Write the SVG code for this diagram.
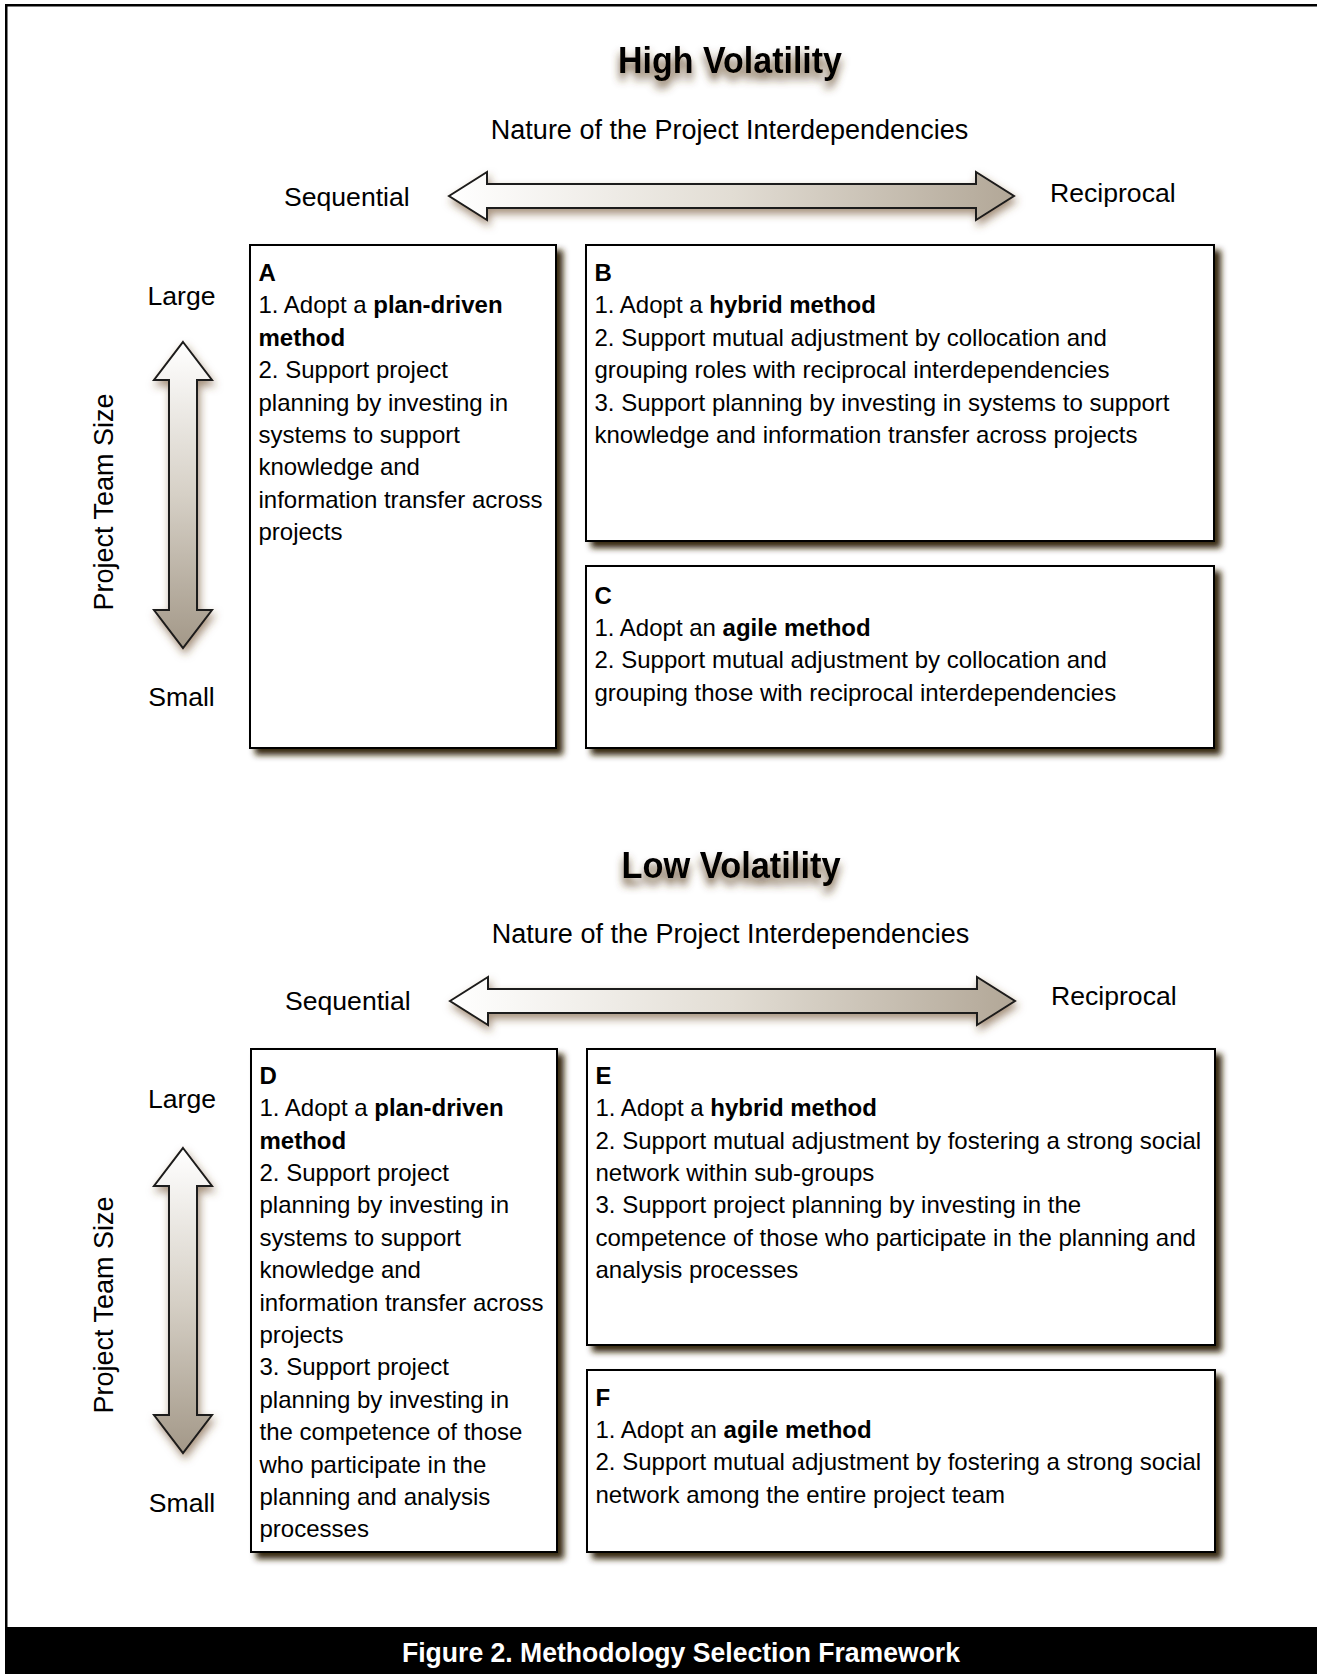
<svg xmlns="http://www.w3.org/2000/svg" width="1317" height="1674" viewBox="0 0 1317 1674">
<style>
.t{font-family:"Liberation Sans",Arial,sans-serif;font-size:24px;fill:#000}
.b{font-weight:bold}
.lbl{font-family:"Liberation Sans",Arial,sans-serif;font-size:26.6px;fill:#000}
.ttl{font-family:"Liberation Sans",Arial,sans-serif;font-size:36px;font-weight:bold;fill:#000;filter:url(#titleShadow)}
.box{fill:#fff;stroke:#000;stroke-width:2;filter:url(#boxShadow)}
.harrow{fill:url(#gradH);stroke:#1a1a1a;stroke-width:2;stroke-linejoin:miter;filter:url(#arrowShadow)}
.varrow{fill:url(#gradV);stroke:#1a1a1a;stroke-width:2;stroke-linejoin:miter;filter:url(#arrowShadow)}
.cap{font-family:"Liberation Sans",Arial,sans-serif;font-size:28px;font-weight:bold;fill:#fff}
</style>
<defs>
<filter id="boxShadow" x="-5%" y="-5%" width="115%" height="115%">
<feDropShadow dx="6" dy="6" stdDeviation="3" flood-color="#35250f" flood-opacity="1"/>
</filter>
<filter id="titleShadow" x="-10%" y="-30%" width="120%" height="180%">
<feDropShadow dx="0" dy="7" stdDeviation="4" flood-color="#5a3c1e" flood-opacity="0.9"/>
</filter>
<filter id="arrowShadow" x="-20%" y="-30%" width="140%" height="160%">
<feDropShadow dx="2" dy="5" stdDeviation="4" flood-color="#6b4a28" flood-opacity="0.6"/>
</filter>
<linearGradient id="gradH" x1="0" y1="0" x2="1" y2="0">
<stop offset="0" stop-color="#ffffff"/>
<stop offset="0.5" stop-color="#e2ddd4"/>
<stop offset="1" stop-color="#b2a797"/>
</linearGradient>
<linearGradient id="gradV" x1="0" y1="0" x2="0" y2="1">
<stop offset="0" stop-color="#ffffff"/>
<stop offset="0.5" stop-color="#d6d0c6"/>
<stop offset="1" stop-color="#a39888"/>
</linearGradient>
</defs>
<rect width="1317" height="1674" fill="#fff"/>
<g id="frame">
<rect x="5" y="4" width="1312" height="2.5" fill="#000"/>
<rect x="5" y="4" width="2.5" height="1624" fill="#000"/>
<rect x="5" y="1627" width="1312" height="47" fill="#000"/>
<text class="cap" x="681" y="1661.5" text-anchor="middle" textLength="558" lengthAdjust="spacingAndGlyphs">Figure 2. Methodology Selection Framework</text>
</g>
<g id="labels-high">
<text class="ttl" x="730" y="72.7" text-anchor="middle" textLength="224" lengthAdjust="spacingAndGlyphs">High Volatility</text>
<text class="lbl" x="729.5" y="139" text-anchor="middle" style="font-size:27px">Nature of the Project Interdependencies</text>
<text class="lbl" x="284" y="206">Sequential</text>
<text class="lbl" x="1050" y="202">Reciprocal</text>
<text class="lbl" x="181.5" y="304.5" text-anchor="middle">Large</text>
<text class="lbl" x="181.5" y="706.4" text-anchor="middle">Small</text>
<text class="lbl" transform="translate(113,502) rotate(-90)" text-anchor="middle" style="font-size:27px">Project Team Size</text>
</g>
<g id="labels-low">
<text class="ttl" x="731" y="878" text-anchor="middle" textLength="219" lengthAdjust="spacingAndGlyphs">Low Volatility</text>
<text class="lbl" x="730.5" y="943" text-anchor="middle" style="font-size:27px">Nature of the Project Interdependencies</text>
<text class="lbl" x="285" y="1010">Sequential</text>
<text class="lbl" x="1051" y="1005">Reciprocal</text>
<text class="lbl" x="182" y="1108" text-anchor="middle">Large</text>
<text class="lbl" x="182" y="1511.5" text-anchor="middle">Small</text>
<text class="lbl" transform="translate(113,1305) rotate(-90)" text-anchor="middle" style="font-size:27px">Project Team Size</text>
</g>
<g id="connectors">
<path class="harrow" d="M449,196 L487,172 L487,184 L976,184 L976,172 L1014,196 L976,220 L976,208 L487,208 L487,220 Z"/>
<path class="varrow" d="M183,342 L212,380 L197,380 L197,610 L212,610 L183,648 L154,610 L169,610 L169,380 L154,380 Z"/>
<path class="harrow" d="M450,1001 L488,977 L488,989 L977,989 L977,977 L1015,1001 L977,1025 L977,1013 L488,1013 L488,1025 Z"/>
<path class="varrow" d="M183,1148 L212,1186 L197,1186 L197,1415 L212,1415 L183,1453 L154,1415 L169,1415 L169,1186 L154,1186 Z"/>
</g>
<g id="node-A">
<rect class="box" x="250" y="245" width="306" height="503"/>
<text class="t">
<tspan x="258.5" y="280.8" class="b">A</tspan>
<tspan x="258.5" y="313.2">1. Adopt a <tspan class="b">plan-driven</tspan></tspan>
<tspan x="258.5" y="345.6" class="b">method</tspan>
<tspan x="258.5" y="378.1">2. Support project</tspan>
<tspan x="258.5" y="410.5">planning by investing in</tspan>
<tspan x="258.5" y="442.9">systems to support</tspan>
<tspan x="258.5" y="475.3">knowledge and</tspan>
<tspan x="258.5" y="507.7">information transfer across</tspan>
<tspan x="258.5" y="540.2">projects</tspan>
</text>
</g>
<g id="node-B">
<rect class="box" x="586" y="245" width="628" height="296"/>
<text class="t">
<tspan x="594.5" y="280.8" class="b">B</tspan>
<tspan x="594.5" y="313.2">1. Adopt a <tspan class="b">hybrid method</tspan></tspan>
<tspan x="594.5" y="345.6">2. Support mutual adjustment by collocation and</tspan>
<tspan x="594.5" y="378.1">grouping roles with reciprocal interdependencies</tspan>
<tspan x="594.5" y="410.5">3. Support planning by investing in systems to support</tspan>
<tspan x="594.5" y="442.9">knowledge and information transfer across projects</tspan>
</text>
</g>
<g id="node-C">
<rect class="box" x="586" y="566" width="628" height="182"/>
<text class="t">
<tspan x="594.5" y="603.5" class="b">C</tspan>
<tspan x="594.5" y="635.9">1. Adopt an <tspan class="b">agile method</tspan></tspan>
<tspan x="594.5" y="668.3">2. Support mutual adjustment by collocation and</tspan>
<tspan x="594.5" y="700.8">grouping those with reciprocal interdependencies</tspan>
</text>
</g>
<g id="node-D">
<rect class="box" x="251" y="1049" width="306" height="503"/>
<text class="t">
<tspan x="259.5" y="1083.7" class="b">D</tspan>
<tspan x="259.5" y="1116.1">1. Adopt a <tspan class="b">plan-driven</tspan></tspan>
<tspan x="259.5" y="1148.5" class="b">method</tspan>
<tspan x="259.5" y="1180.9">2. Support project</tspan>
<tspan x="259.5" y="1213.3">planning by investing in</tspan>
<tspan x="259.5" y="1245.7">systems to support</tspan>
<tspan x="259.5" y="1278.1">knowledge and</tspan>
<tspan x="259.5" y="1310.5">information transfer across</tspan>
<tspan x="259.5" y="1342.9">projects</tspan>
<tspan x="259.5" y="1375.3">3. Support project</tspan>
<tspan x="259.5" y="1407.7">planning by investing in</tspan>
<tspan x="259.5" y="1440.1">the competence of those</tspan>
<tspan x="259.5" y="1472.5">who participate in the</tspan>
<tspan x="259.5" y="1504.9">planning and analysis</tspan>
<tspan x="259.5" y="1537.3">processes</tspan>
</text>
</g>
<g id="node-E">
<rect class="box" x="587" y="1049" width="628" height="296"/>
<text class="t">
<tspan x="595.5" y="1083.7" class="b">E</tspan>
<tspan x="595.5" y="1116.1">1. Adopt a <tspan class="b">hybrid method</tspan></tspan>
<tspan x="595.5" y="1148.5">2. Support mutual adjustment by fostering a strong social</tspan>
<tspan x="595.5" y="1180.9">network within sub-groups</tspan>
<tspan x="595.5" y="1213.3">3. Support project planning by investing in the</tspan>
<tspan x="595.5" y="1245.7">competence of those who participate in the planning and</tspan>
<tspan x="595.5" y="1278.1">analysis processes</tspan>
</text>
</g>
<g id="node-F">
<rect class="box" x="587" y="1370" width="628" height="182"/>
<text class="t">
<tspan x="595.5" y="1405.5" class="b">F</tspan>
<tspan x="595.5" y="1437.9">1. Adopt an <tspan class="b">agile method</tspan></tspan>
<tspan x="595.5" y="1470.3">2. Support mutual adjustment by fostering a strong social</tspan>
<tspan x="595.5" y="1502.7">network among the entire project team</tspan>
</text>
</g>
</svg>
